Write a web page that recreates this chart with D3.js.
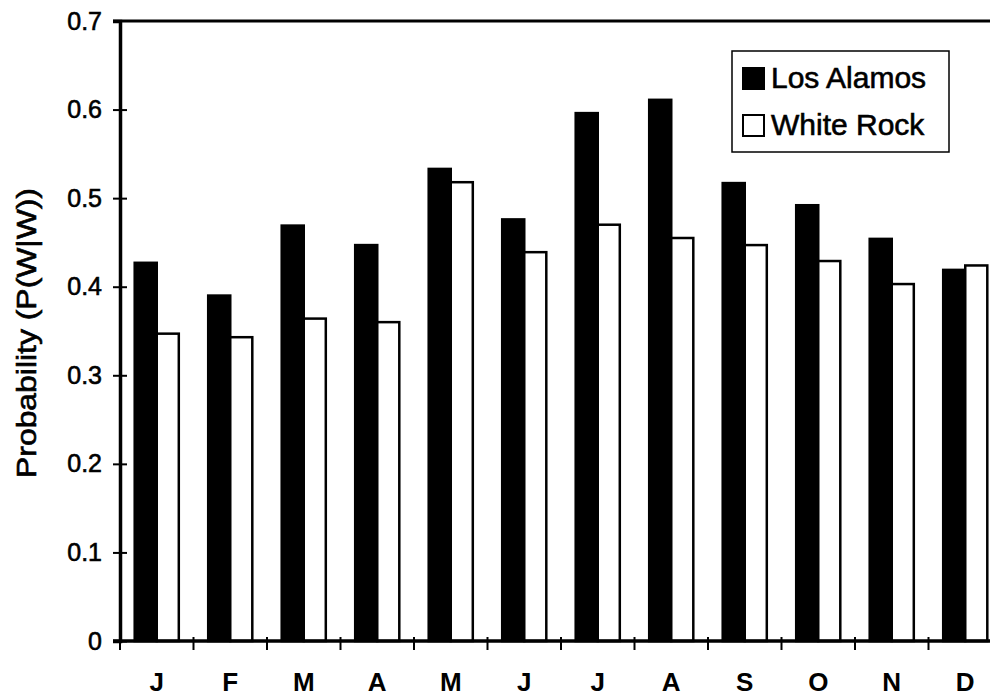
<!DOCTYPE html>
<html>
<head>
<meta charset="utf-8">
<script src="https://cdn.jsdelivr.net/npm/d3@7"></script>
<style>
  body { margin: 0; background: #fff; }
  svg { display: block; font-family: "Liberation Sans", Arial, sans-serif; }
  .heavy { stroke: #000; stroke-width: 0.6px; }
</style>
</head>
<body>
<svg width="990" height="699"></svg>
<script>
var months = ['J', 'F', 'M', 'A', 'M', 'J', 'J', 'A', 'S', 'O', 'N', 'D'];
var series = ['Los Alamos', 'White Rock'];
var losAlamos = [0.427, 0.390, 0.469, 0.447, 0.533, 0.476, 0.596, 0.611, 0.517, 0.492, 0.454, 0.419];
var whiteRock = [0.347, 0.343, 0.364, 0.360, 0.518, 0.439, 0.470, 0.455, 0.447, 0.429, 0.403, 0.424];
var yTicks = [0, 0.1, 0.2, 0.3, 0.4, 0.5, 0.6, 0.7];

var svg = d3.select('svg');
var plotLeft = 120, plotTop = 21, plotBottom = 641, step = 73.5;
var plotRight = plotLeft + step * months.length;

var x0 = d3.scaleBand().domain(d3.range(months.length)).range([plotLeft, plotRight]);
var x1 = d3.scaleBand().domain(series).range([x0.bandwidth() * 0.2, x0.bandwidth() * 0.8]);
var y = d3.scaleLinear().domain([0, 0.7]).range([plotBottom, plotTop]);
var fill = d3.scaleOrdinal().domain(series).range(['#000', '#fff']);

// bars
var rows = months.map(function (m, i) {
    return [{ s: series[0], v: losAlamos[i] }, { s: series[1], v: whiteRock[i] }];
});
var groups = svg.append('g').selectAll('g').data(rows).enter().append('g')
    .attr('transform', function (d, i) { return 'translate(' + x0(i) + ',0)'; });
groups.selectAll('rect').data(function (d) { return d; }).enter().append('rect')
    .attr('x', function (d) { return x1(d.s); })
    .attr('y', function (d) { return y(d.v); })
    .attr('width', x1.bandwidth())
    .attr('height', function (d) { return plotBottom - y(d.v); })
    .attr('fill', function (d) { return fill(d.s); })
    .attr('stroke', '#000').attr('stroke-width', 2.5);

// top frame line
svg.append('line').attr('x1', plotLeft - 7).attr('x2', 990).attr('y1', plotTop).attr('y2', plotTop)
    .attr('stroke', '#000').attr('stroke-width', 3);

// y axis
var yAxis = svg.append('g').attr('transform', 'translate(' + plotLeft + ',0)')
    .call(d3.axisLeft(y).tickValues(yTicks).tickSize(7).tickPadding(11)
        .tickFormat(function (d) { return d === 0 ? '0' : d3.format('.1f')(d); }));
yAxis.select('.domain').attr('stroke-width', 3.5);
yAxis.selectAll('.tick line').attr('stroke-width', 2)
    .attr('x1', function (d) { return d === 0.7 ? 0 : 7; });
yAxis.selectAll('.tick text').attr('font-size', 25).attr('fill', '#000').attr('class', 'heavy')
    .attr('font-family', '"Liberation Sans", Arial, sans-serif');

// x axis line and boundary ticks
svg.append('line').attr('x1', plotLeft - 7).attr('x2', 990).attr('y1', plotBottom).attr('y2', plotBottom)
    .attr('stroke', '#000').attr('stroke-width', 3.5);
svg.append('g').selectAll('line').data(d3.range(months.length)).enter().append('line')
    .attr('x1', function (i) { return x0(i); }).attr('x2', function (i) { return x0(i); })
    .attr('y1', plotBottom - 4).attr('y2', plotBottom + 9)
    .attr('stroke', '#000').attr('stroke-width', 2);

var xAxis = svg.append('g').attr('transform', 'translate(0,' + plotBottom + ')')
    .call(d3.axisBottom(x0).tickSize(0).tickPadding(0).tickFormat(function (i) { return months[i]; }));
xAxis.select('.domain').remove();
xAxis.selectAll('.tick text').attr('font-size', 26).attr('font-weight', 'bold').attr('fill', '#000')
    .attr('dy', null).attr('y', 50)
    .attr('font-family', '"Liberation Sans", Arial, sans-serif');

// y title
svg.append('text')
    .attr('class', 'heavy')
    .attr('transform', 'translate(36,333) rotate(-90)')
    .attr('text-anchor', 'middle')
    .attr('font-size', 27)
    .attr('textLength', 290).attr('lengthAdjust', 'spacingAndGlyphs')
    .text('Probability (P(W|W))');

// legend
var legend = svg.append('g');
legend.append('rect').attr('x', 732).attr('y', 51).attr('width', 217).attr('height', 101)
    .attr('fill', '#fff').attr('stroke', '#000').attr('stroke-width', 1.5);
var items = legend.selectAll('g.item').data(series).enter().append('g').attr('class', 'item')
    .attr('transform', function (d, i) { return 'translate(743,' + (68 + i * 47) + ')'; });
items.append('rect').attr('width', 21).attr('height', 21)
    .attr('fill', function (d) { return fill(d); })
    .attr('stroke', '#000').attr('stroke-width', 2);
items.append('text').attr('class', 'heavy').attr('x', 28).attr('y', 20).attr('font-size', 30)
    .text(function (d) { return d; });
</script>
</body>
</html>
